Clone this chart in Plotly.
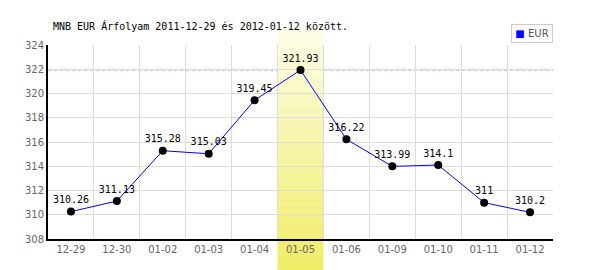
import plotly.graph_objects as go

dates = ["12-29", "12-30", "01-02", "01-03", "01-04", "01-05",
         "01-06", "01-09", "01-10", "01-11", "01-12"]
eur = [310.26, 311.13, 315.28, 315.03, 319.45, 321.93,
       316.22, 313.99, 314.1, 311, 310.2]
highlight = "01-05"
title = "MNB EUR Árfolyam 2011-12-29 és 2012-01-12 között."

W, H = 600, 270
ML, MR, MT, MB = 48, 47, 44.5, 31
ph = H - MT - MB

fig = go.Figure()
fig.add_trace(go.Scatter(
    x=dates, y=eur, mode="lines+markers+text",
    line=dict(color="#0000ff", width=1),
    marker=dict(color="black", size=8),
    text=[f"{v:g}" for v in eur], textposition="top center",
    textfont=dict(family="DejaVu Sans Mono", size=10, color="black"),
    cliponaxis=False, showlegend=False, name="EUR"))

# dashed max line (drawn first so the band covers it)
fig.add_shape(type="line", xref="paper", yref="y", x0=0, x1=1,
              y0=max(eur), y1=max(eur),
              line=dict(color="#9c9cf0", width=1, dash="3px,3px"),
              layer="between")

# highlight band gradient
idx = dates.index(highlight)
n = len(dates)
x0p, x1p = idx / n, (idx + 1) / n
top_px, bot_px = 28, 270
N = 30
c0 = (0xfd, 0xfd, 0xe8)
c1 = (0xf0, 0xec, 0x66)
for i in range(N):
    ya = top_px + (bot_px - top_px) * i / N
    yb = top_px + (bot_px - top_px) * (i + 1) / N
    t = (i + 0.5) / N
    c = tuple(round(c0[k] + (c1[k] - c0[k]) * t) for k in range(3))
    fig.add_shape(type="rect", xref="paper", yref="paper",
                  x0=x0p, x1=x1p,
                  y0=(H - MB - yb) / ph, y1=(H - MB - ya) / ph + 0.002,
                  fillcolor="rgb(%d,%d,%d)" % c, line=dict(width=0),
                  layer="between")

fig.add_annotation(xref="paper", yref="paper",
                   x=(532 - ML) / (W - ML - MR), y=(H - MB - 32.5) / ph,
                   xanchor="center", yanchor="middle",
                   text="<span style='color:#0000ff'>■</span> EUR",
                   showarrow=False, width=38, height=15, borderpad=1,
                   bordercolor="#cccccc", borderwidth=1, bgcolor="white",
                   font=dict(family="DejaVu Sans", size=10, color="#555555"))

fig.update_layout(
    width=W, height=H,
    margin=dict(l=ML, r=MR, t=MT, b=MB, pad=0),
    paper_bgcolor="white", plot_bgcolor="white",
    title=dict(text=title, x=53 / W, xanchor="left", y=1 - 26 / H,
               yanchor="middle",
               font=dict(family="DejaVu Sans Mono", size=10, color="black")),
    xaxis=dict(type="category", range=[-0.5, n - 0.5], tickson="boundaries",
               showgrid=True, gridcolor="#dcdcdc", gridwidth=1,
               showline=True, linecolor="black", linewidth=2, ticks="",
               tickfont=dict(family="DejaVu Sans", size=10, color="#666666"),
               zeroline=False, fixedrange=True),
    yaxis=dict(range=[308, 324], dtick=2, tick0=308,
               showgrid=True, gridcolor="#dcdcdc", gridwidth=1,
               showline=True, linecolor="black", linewidth=2, ticks="",
               tickfont=dict(family="DejaVu Sans", size=10, color="#666666"),
               zeroline=False, fixedrange=True),
    showlegend=False,
)

fig.write_html("out.html")
